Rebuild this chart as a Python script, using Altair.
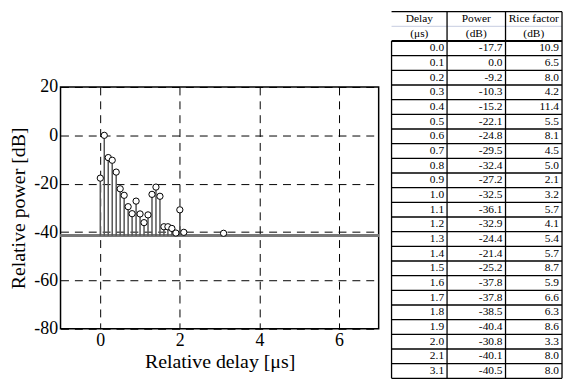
import altair as alt
import pandas as pd

# ---- data ----
delay = [0.0, 0.1, 0.2, 0.3, 0.4, 0.5, 0.6, 0.7, 0.8, 0.9, 1.0, 1.1,
         1.2, 1.3, 1.4, 1.5, 1.6, 1.7, 1.8, 1.9, 2.0, 2.1, 3.1]
power = [-17.7, 0.0, -9.2, -10.3, -15.2, -22.1, -24.8, -29.5, -32.4, -27.2,
         -32.5, -36.1, -32.9, -24.4, -21.4, -25.2, -37.8, -37.8, -38.5, -40.4,
         -30.8, -40.1, -40.5]
rice = [10.9, 6.5, 8.0, 4.2, 11.4, 5.5, 8.1, 4.5, 5.0, 2.1, 3.2, 5.7,
        4.1, 5.4, 5.7, 8.7, 5.9, 6.6, 6.3, 8.6, 3.3, 8.0, 8.0]

x_ticks = [0, 2, 4, 6]
y_ticks = [20, 0, -20, -40, -60, -80]
floor_db = -41.5

header1 = ["Delay", "Power", "Rice factor"]
header2 = ["(\u03bcs)", "(dB)", "(dB)"]

serif = "Liberation Serif"

# ---- left: stem plot ----
df = pd.DataFrame({"delay": delay, "power": power})
df["floor"] = floor_db

xs = alt.Scale(domain=[-1, 7], nice=False, zero=False)
ys = alt.Scale(domain=[-80, 20], nice=False, zero=False)

hyphen_labels = "datum.value < 0 ? '-' + abs(datum.value) : '' + datum.value"
common_axis = dict(grid=True, gridDash=[8, 6], gridColor="black", gridWidth=1,
                   gridOpacity=1, ticks=False, domain=False,
                   labelFont=serif, labelFontSize=18, labelColor="black",
                   titleFont=serif, titleFontSize=20, titleFontWeight="normal",
                   titleColor="black", labelExpr=hyphen_labels)
x_axis = alt.Axis(values=x_ticks, title="Relative delay [\u03bcs]",
                  labelPadding=3, titlePadding=2, **common_axis)
y_axis = alt.Axis(values=y_ticks, title="Relative power [dB]",
                  labelPadding=3, titlePadding=5, **common_axis)

base = alt.Chart(df)
baseline = base.mark_rule(color="#777777", strokeWidth=2).encode(
    y=alt.datum(floor_db, scale=ys))
stems = base.mark_rule(color="#555555", strokeWidth=1.5).encode(
    x=alt.X("delay:Q", scale=xs, axis=x_axis),
    y=alt.Y("power:Q", scale=ys, axis=y_axis),
    y2="floor:Q")
points = base.mark_point(shape="circle", filled=True, fill="white",
                         stroke="black", strokeWidth=1, size=40, opacity=1).encode(
    x=alt.X("delay:Q", scale=xs),
    y=alt.Y("power:Q", scale=ys))

left = alt.layer(baseline, stems, points).properties(
    width=321, height=244,
    view=alt.ViewBackground(stroke="black", strokeWidth=1.5))

spacer = alt.Chart(pd.DataFrame({"a": [0]})).mark_point(opacity=0, size=1).encode(
    x=alt.value(10), y=alt.value(10)).properties(
    width=321, height=76, view=alt.ViewBackground(stroke="transparent"))

left_col = alt.vconcat(spacer, left, spacing=0, bounds="flush")

# ---- right: table ----
col_edges = [0, 56, 115, 172]
n_rows = 2 + len(delay)

cells = []
for c in range(3):
    cx = (col_edges[c] + col_edges[c + 1]) / 2
    cells.append({"x": cx, "y": 0.5, "t": header1[c], "kind": "h"})
    cells.append({"x": cx, "y": 1.5, "t": header2[c], "kind": "h"})
for r in range(len(delay)):
    vals = [delay[r], power[r], rice[r]]
    for c in range(3):
        cells.append({"x": col_edges[c + 1], "y": r + 2.5,
                      "t": f"{vals[c]:.1f}", "kind": "d"})
cells = pd.DataFrame(cells)

hl = []
for k in range(n_rows + 1):
    if k == 1:
        col, w = "#c5cbe0", 1
    elif k == 2:
        col, w = "black", 2
    else:
        col, w = "black", 1.3
    hl.append({"x": 0, "x2": col_edges[-1], "y": k, "y2": k, "c": col, "w": w})
for i, e in enumerate(col_edges):
    hl.append({"x": e, "x2": e, "y": 2 if i == 0 else 0, "y2": n_rows,
               "c": "black", "w": 1.3})
lines = pd.DataFrame(hl)

txs = alt.Scale(domain=[0, col_edges[-1]], nice=False, zero=False)
tys = alt.Scale(domain=[0, n_rows], nice=False, zero=False, reverse=True)

tlines = alt.Chart(lines).mark_rule().encode(
    x=alt.X("x:Q", scale=txs, axis=None), x2="x2:Q",
    y=alt.Y("y:Q", scale=tys, axis=None), y2="y2:Q",
    color=alt.Color("c:N", scale=None),
    strokeWidth=alt.StrokeWidth("w:Q", scale=None))
thead = alt.Chart(cells).transform_filter("datum.kind == 'h'").mark_text(
    font=serif, fontSize=11.5, align="center", baseline="middle", color="black").encode(
    x=alt.X("x:Q", scale=txs, axis=None),
    y=alt.Y("y:Q", scale=tys, axis=None), text="t:N")
tdata = alt.Chart(cells).transform_filter("datum.kind == 'd'").mark_text(
    font=serif, fontSize=11.5, align="right", baseline="middle", dx=-3,
    color="black").encode(
    x=alt.X("x:Q", scale=txs, axis=None),
    y=alt.Y("y:Q", scale=tys, axis=None), text="t:N")

table = alt.layer(tlines, thead, tdata).properties(
    width=172, height=370,
    view=alt.ViewBackground(stroke="transparent"))

chart = alt.hconcat(left_col, table, spacing=9).properties(
    padding=0, background="white").configure_concat(spacing=0)

chart.save("out.html", embed_options={"renderer": "svg", "actions": False})
